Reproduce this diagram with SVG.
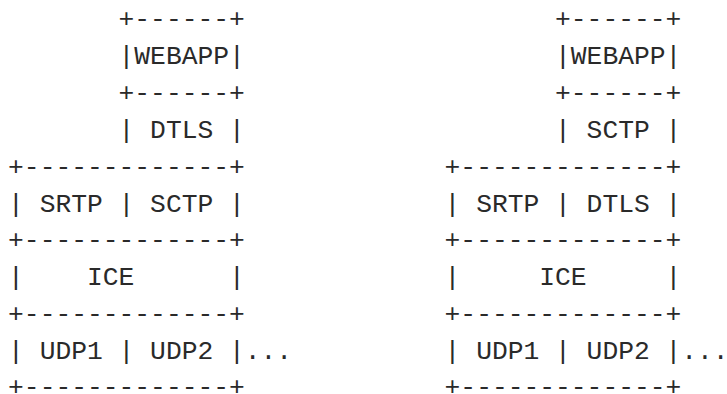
<svg xmlns="http://www.w3.org/2000/svg" width="727" height="394" viewBox="0 0 727 394">
<style>
text{font-family:"Liberation Mono","DejaVu Sans Mono",monospace;font-size:26.3px;fill:#2a2a2a;white-space:pre}
</style>
<rect width="727" height="394" fill="#fff"/>
<g id="left-stack" xml:space="preserve">
<text x="8.1" y="27.3">       +------+</text>
<text x="8.1" y="64.1">       |WEBAPP|</text>
<text x="8.1" y="101">       +------+</text>
<text x="8.1" y="137.8">       | DTLS |</text>
<text x="8.1" y="174.7">+-------------+</text>
<text x="8.1" y="211.5">| SRTP | SCTP |</text>
<text x="8.1" y="248.3">+-------------+</text>
<text x="8.1" y="285.2">|    ICE      |</text>
<text x="8.1" y="322">+-------------+</text>
<text x="8.1" y="358.9">| UDP1 | UDP2 |...</text>
<text x="8.1" y="395.2">+-------------+</text>
</g>
<g id="right-stack" xml:space="preserve">
<text x="444.6" y="27.3">       +------+</text>
<text x="444.6" y="64.1">       |WEBAPP|</text>
<text x="444.6" y="101">       +------+</text>
<text x="444.6" y="137.8">       | SCTP |</text>
<text x="444.6" y="174.7">+-------------+</text>
<text x="444.6" y="211.5">| SRTP | DTLS |</text>
<text x="444.6" y="248.3">+-------------+</text>
<text x="444.6" y="285.2">|     ICE     |</text>
<text x="444.6" y="322">+-------------+</text>
<text x="444.6" y="358.9">| UDP1 | UDP2 |...</text>
<text x="444.6" y="395.2">+-------------+</text>
</g>
<g id="connectors"/>
</svg>
